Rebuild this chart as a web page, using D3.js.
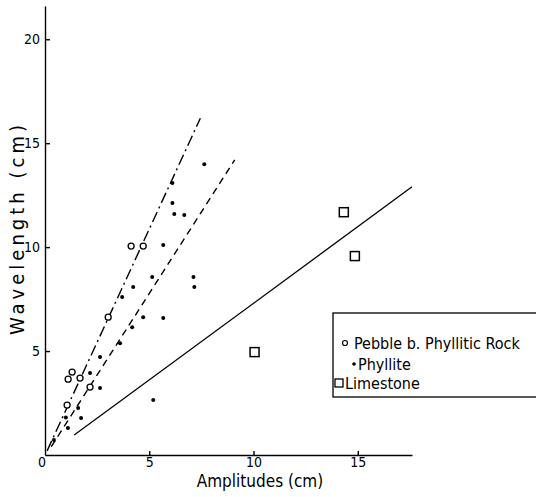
<!DOCTYPE html>
<html>
<head>
<meta charset="utf-8">
<script src="https://cdn.jsdelivr.net/npm/d3@7"></script>
<style>
  body { margin: 0; background: #fff; }
  text { font-family: "DejaVu Sans Condensed", "Liberation Sans Narrow", sans-serif; fill: #000; }
</style>
</head>
<body>
<script>
// Pebble b. Phyllitic Rock (open circles): [amplitude, wavelength]
const pebble = [
  [4.13, 10.05], [4.71, 10.05], [3.03, 6.63], [1.3, 3.99],
  [1.11, 3.65], [1.68, 3.7], [2.16, 3.27], [1.06, 2.4]
];
// Phyllite (dots)
const phyllite = [
  [7.64, 13.99], [6.11, 13.08], [6.11, 12.12], [6.2, 11.59], [6.68, 11.54],
  [5.67, 10.1], [5.14, 8.56], [4.23, 8.08], [3.7, 7.6], [7.12, 8.56],
  [7.16, 8.08], [4.71, 6.63], [5.67, 6.59], [4.18, 6.15], [3.6, 5.38],
  [2.64, 4.71], [2.16, 3.94], [2.64, 3.22], [5.19, 2.64], [1.59, 2.26],
  [1.73, 1.78], [1.0, 1.8], [1.1, 1.3], [0.43, 0.72]
];
// Limestone (squares)
const limestone = [[14.33, 11.68], [14.86, 9.57], [10.05, 4.95]];

// fitted lines (end points in data units)
const pebbleFit = [[0.1, 0.2], [7.45, 16.2]];
const phylliteFit = [[0.3, 0.4], [9.1, 14.2]];
const limestoneFit = [[1.4, 0.96], [17.6, 12.9]];

const xTicks = [5, 10, 15];
const yTicks = [5, 10, 15, 20];
const legendLabels = ["Pebble b. Phyllitic Rock", "Phyllite", "Limestone"];

const W = 536, H = 497;
const svg = d3.select("body").append("svg")
  .attr("width", W).attr("height", H);

const x = d3.scaleLinear().domain([0, 17.6]).range([45, 412]);
const y = d3.scaleLinear().domain([0, 21.6]).range([455, 6]);

// axes
const xAxis = svg.append("g")
  .attr("transform", `translate(0,${y(0)})`)
  .call(d3.axisBottom(x).tickValues(xTicks).tickSizeInner(-4).tickSizeOuter(0).tickPadding(2));
const yAxis = svg.append("g")
  .attr("transform", `translate(${x(0)},0)`)
  .call(d3.axisLeft(y).tickValues(yTicks).tickSizeInner(-5).tickSizeOuter(0).tickPadding(5));
[xAxis, yAxis].forEach(g => {
  g.selectAll("path, line").attr("stroke", "#000").attr("stroke-width", 1.4);
  g.selectAll("text").style("font-size", "14px");
});

svg.append("text")
  .attr("x", x(0) - 3).attr("y", y(0) + 12)
  .attr("text-anchor", "middle")
  .style("font-size", "14px")
  .text("0");

// axis titles
svg.append("text")
  .attr("x", 260).attr("y", 487)
  .attr("text-anchor", "middle")
  .style("font-size", "17px")
  .text("Amplitudes (cm)");
svg.append("text")
  .attr("transform", "translate(24,230) rotate(-90)")
  .attr("text-anchor", "middle")
  .attr("textLength", 210)
  .attr("lengthAdjust", "spacing")
  .style("font-size", "20px")
  .text("Wavelength (cm)");

// fit lines
const line = d3.line().x(d => x(d[0])).y(d => y(d[1]));
svg.append("path").datum(pebbleFit).attr("d", line)
  .attr("fill", "none").attr("stroke", "#000").attr("stroke-width", 1.4)
  .attr("stroke-dasharray", "11,4,2,4");
svg.append("path").datum(phylliteFit).attr("d", line)
  .attr("fill", "none").attr("stroke", "#000").attr("stroke-width", 1.4)
  .attr("stroke-dasharray", "7,5");
svg.append("path").datum(limestoneFit).attr("d", line)
  .attr("fill", "none").attr("stroke", "#000").attr("stroke-width", 1.3);

// points
svg.selectAll("circle.pebble").data(pebble).enter().append("circle")
  .attr("class", "pebble")
  .attr("cx", d => x(d[0])).attr("cy", d => y(d[1])).attr("r", 3)
  .attr("fill", "#fff").attr("stroke", "#000").attr("stroke-width", 1.3);
svg.selectAll("circle.phyllite").data(phyllite).enter().append("circle")
  .attr("class", "phyllite")
  .attr("cx", d => x(d[0])).attr("cy", d => y(d[1])).attr("r", 2)
  .attr("fill", "#000");
svg.selectAll("rect.lime").data(limestone).enter().append("rect")
  .attr("class", "lime")
  .attr("x", d => x(d[0]) - 4.5).attr("y", d => y(d[1]) - 4.5)
  .attr("width", 9).attr("height", 9)
  .attr("fill", "#fff").attr("stroke", "#000").attr("stroke-width", 1.5);

// legend
const lg = svg.append("g");
lg.append("rect")
  .attr("x", 333).attr("y", 313).attr("width", 220).attr("height", 84)
  .attr("fill", "#fff").attr("stroke", "#000").attr("stroke-width", 1.3);
lg.append("circle").attr("cx", 345).attr("cy", 343).attr("r", 2.5)
  .attr("fill", "#fff").attr("stroke", "#000").attr("stroke-width", 1.2);
lg.append("circle").attr("cx", 354).attr("cy", 364).attr("r", 1.8).attr("fill", "#000");
lg.append("rect").attr("x", 335).attr("y", 379).attr("width", 8).attr("height", 8)
  .attr("fill", "#fff").attr("stroke", "#000").attr("stroke-width", 1.3);
const legendPos = [[354, 349], [358, 370], [345, 389]];
lg.selectAll("text.lab").data(legendLabels).enter().append("text")
  .attr("class", "lab")
  .attr("x", (d, i) => legendPos[i][0]).attr("y", (d, i) => legendPos[i][1])
  .style("font-size", "16px")
  .text(d => d);
</script>
</body>
</html>
